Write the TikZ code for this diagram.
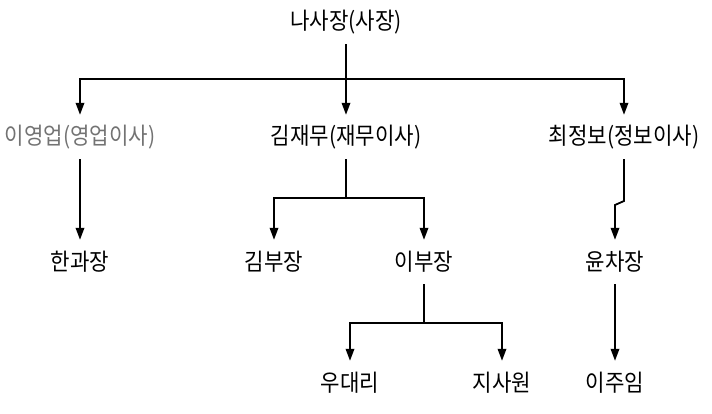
\documentclass[tikz,border=0pt]{standalone}
\usepackage{fontspec}
\newfontfamily\kr[FakeStretch=0.9]{Noto Sans CJK KR}
\usepackage{tikz}
\usetikzlibrary{arrows.meta}

\begin{document}
\begin{tikzpicture}[
        x=1pt, y=-1pt,
        person/.style={inner sep=0pt, minimum height=44pt, anchor=center,
                       font=\kr\fontsize{23.5}{25}\selectfont},
        faded/.style={person, text=black!55},
        line/.style={line width=1.8pt},
        arr/.style={line, -{Triangle[length=12pt, width=8.5pt]}},
    ]
    \useasboundingbox (0,0) rectangle (712,413);

    % --- 1단계 ---
    \node[person] (sa) at (346,22) {나사장(사장)};

    % --- 2단계 ---
    \node[faded] (yeong) at (80,137) {이영업(영업이사)};
    \node[person] (jae) at (346,137) {김재무(재무이사)};
    \node[person] (choi) at (624,137) {최정보(정보이사)};

    % --- 3단계 ---
    \node[person] (han) at (80,262) {한과장};
    \node[person] (kimb) at (274,262) {김부장};
    \node[person] (leeb) at (424,262) {이부장};
    \node[person] (yun) at (615,262) {윤차장};

    % --- 4단계 ---
    \node[person] (woo) at (350,383) {우대리};
    \node[person] (ji) at (502,383) {지사원};
    \node[person] (leej) at (615,383) {이주임};

    % --- 분기점 ---
    \coordinate (hub1) at (346,79);
    \coordinate (hub2) at (346,198);
    \coordinate (hub3) at (424,323);
    \coordinate (bend) at (624,201);

    % --- 화살표 ---
    \draw[arr] (sa) -- (jae);
    \draw[arr] (hub1) -| (yeong.north);
    \draw[arr] (hub1) -| (choi.north);
    \draw[arr] (yeong) -- (han);
    \draw[line] (jae) -- (hub2);
    \draw[arr] (hub2) -| (kimb.north);
    \draw[arr] (hub2) -| (leeb.north);
    \draw[arr] (choi.south) -- (bend) -- ++(-9,4) -- (yun.north);
    \draw[line] (leeb) -- (hub3);
    \draw[arr] (hub3) -| (woo.north);
    \draw[arr] (hub3) -| (ji.north);
    \draw[arr] (yun) -- (leej);
\end{tikzpicture}
\end{document}
